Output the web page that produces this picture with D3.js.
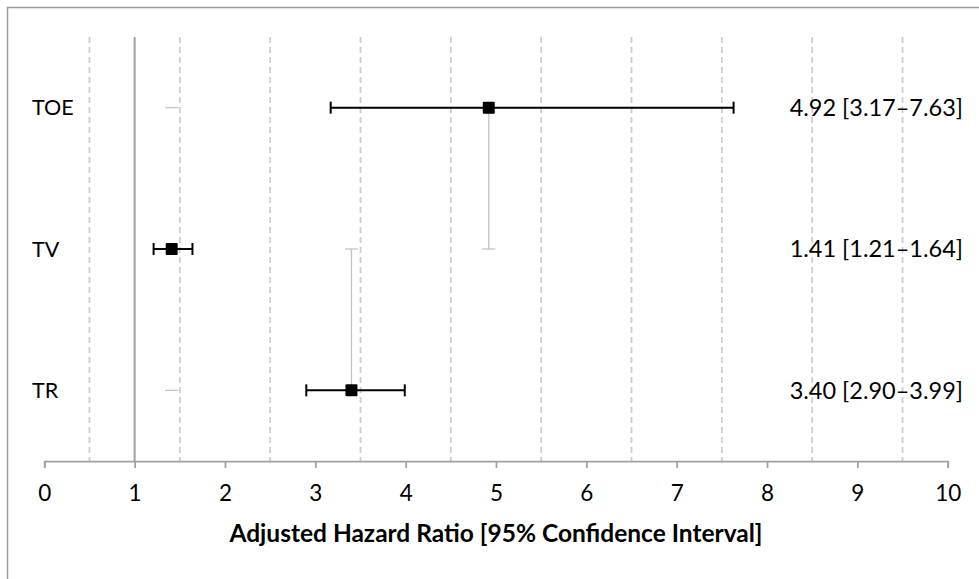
<!DOCTYPE html>
<html>
<head>
<meta charset="utf-8">
<script src="https://cdn.jsdelivr.net/npm/d3@7"></script>
<style>
  body { margin: 0; background: #fff; }
  svg { display: block; font-family: Lato, 'Open Sans', sans-serif; }
</style>
</head>
<body>
<div id="chart-container"></div>
<script>
// forest plot data
const categories = ['TOE', 'TV', 'TR'];
const hazardRatio = [4.92, 1.41, 3.40];
const ciLower = [3.17, 1.21, 2.90];
const ciUpper = [7.63, 1.64, 3.99];
const xTicks = [0, 1, 2, 3, 4, 5, 6, 7, 8, 9, 10];
const gridValues = [0.5, 1.5, 2.5, 3.5, 4.5, 5.5, 6.5, 7.5, 8.5, 9.5];
const referenceValue = 1;

// leftover grey vertical error bars from the spreadsheet
const connectorX = [4.92, 3.40];
const connectorFrom = ['TOE', 'TR'];
const connectorTo = ['TV', 'TV'];
const strayCapX = [1.41, 1.41];
const strayCapAt = ['TOE', 'TR'];

const axisTitle = 'Adjusted Hazard Ratio [95% Confidence Interval]';

const width = 979;
const height = 579;
const plot = {
  left: 44.3, right: 947.7, top: 37, bottom: 461,
};

const fmt = d3.format('.2f');

const drawChart = () => {
  const svg = d3
    .select('#chart-container')
    .append('svg')
    .attr('width', width)
    .attr('height', height);

  const x = d3.scaleLinear().domain([0, 10]).range([plot.left, plot.right]);
  const y = d3.scalePoint().domain(categories).range([plot.top, plot.bottom]).padding(0.5);

  // chart border (right and bottom edges fall outside the picture)
  svg.append('rect')
    .attr('x', 7.5)
    .attr('y', 7.5)
    .attr('width', 1200)
    .attr('height', 1200)
    .attr('fill', 'none')
    .attr('stroke', '#9c9c9c')
    .attr('stroke-width', 1.5);

  // dashed gridlines
  svg.append('g')
    .selectAll('line')
    .data(gridValues)
    .enter()
    .append('line')
    .attr('x1', (d) => x(d))
    .attr('x2', (d) => x(d))
    .attr('y1', plot.top)
    .attr('y2', plot.bottom)
    .attr('stroke', '#cccccc')
    .attr('stroke-width', 1.75)
    .attr('stroke-dasharray', '6,4');

  // reference line at HR = 1
  svg.append('line')
    .attr('x1', x(referenceValue))
    .attr('x2', x(referenceValue))
    .attr('y1', plot.top)
    .attr('y2', plot.bottom)
    .attr('stroke', '#a0a0a0')
    .attr('stroke-width', 2);

  // x axis
  const axis = svg.append('g')
    .attr('transform', `translate(0, ${plot.bottom})`)
    .call(d3.axisBottom(x).tickValues(xTicks).tickSize(7).tickSizeOuter(7).tickPadding(17));
  axis.select('.domain').attr('stroke', '#a0a0a0').attr('stroke-width', 1.75);
  axis.selectAll('.tick line').attr('stroke', '#a0a0a0').attr('stroke-width', 1.75);
  axis.selectAll('.tick text')
    .attr('font-family', 'Lato, sans-serif')
    .attr('font-size', 22.5)
    .attr('fill', '#000');

  svg.append('text')
    .attr('x', (plot.left + plot.right) / 2)
    .attr('y', 542)
    .attr('text-anchor', 'middle')
    .attr('font-size', 24.5)
    .attr('font-weight', 'bold')
    .attr('fill', '#000')
    .text(axisTitle);

  // grey connector bars
  const greyColor = '#c4c4c4';
  const capHalf = 6.5;
  connectorX.forEach((cx, i) => {
    svg.append('line')
      .attr('x1', x(cx))
      .attr('x2', x(cx))
      .attr('y1', y(connectorFrom[i]))
      .attr('y2', y(connectorTo[i]))
      .attr('stroke', greyColor)
      .attr('stroke-width', 1.3);
    svg.append('line')
      .attr('x1', x(cx) - capHalf)
      .attr('x2', x(cx) + capHalf)
      .attr('y1', y(connectorTo[i]))
      .attr('y2', y(connectorTo[i]))
      .attr('stroke', greyColor)
      .attr('stroke-width', 1.3);
  });
  strayCapX.forEach((cx, i) => {
    svg.append('line')
      .attr('x1', x(cx) - capHalf)
      .attr('x2', x(cx) + capHalf)
      .attr('y1', y(strayCapAt[i]))
      .attr('y2', y(strayCapAt[i]))
      .attr('stroke', greyColor)
      .attr('stroke-width', 1.3);
  });

  const rows = categories.map((c, i) => ({
    label: c, hr: hazardRatio[i], lo: ciLower[i], hi: ciUpper[i],
  }));

  const row = svg.append('g')
    .selectAll('g')
    .data(rows)
    .enter()
    .append('g')
    .attr('transform', (d) => `translate(0, ${y(d.label)})`);

  // confidence interval whiskers
  row.append('line')
    .attr('x1', (d) => x(d.lo))
    .attr('x2', (d) => x(d.hi))
    .attr('stroke', '#000')
    .attr('stroke-width', 2);
  row.append('line')
    .attr('x1', (d) => x(d.lo))
    .attr('x2', (d) => x(d.lo))
    .attr('y1', -6)
    .attr('y2', 6)
    .attr('stroke', '#000')
    .attr('stroke-width', 2);
  row.append('line')
    .attr('x1', (d) => x(d.hi))
    .attr('x2', (d) => x(d.hi))
    .attr('y1', -6)
    .attr('y2', 6)
    .attr('stroke', '#000')
    .attr('stroke-width', 2);

  // point estimates
  row.append('rect')
    .attr('x', (d) => x(d.hr) - 6)
    .attr('y', -6)
    .attr('width', 12)
    .attr('height', 12)
    .attr('rx', 1)
    .attr('fill', '#000');

  // category labels
  row.append('text')
    .attr('x', 32)
    .attr('dy', '0.36em')
    .attr('font-size', 21.5)
    .attr('fill', '#000')
    .text((d) => d.label);

  // value labels
  row.append('text')
    .attr('x', 963)
    .attr('dy', '0.36em')
    .attr('text-anchor', 'end')
    .attr('font-size', 23.5)
    .attr('fill', '#000')
    .text((d) => `${fmt(d.hr)} [${fmt(d.lo)}–${fmt(d.hi)}]`);
};

drawChart();
</script>
</body>
</html>
